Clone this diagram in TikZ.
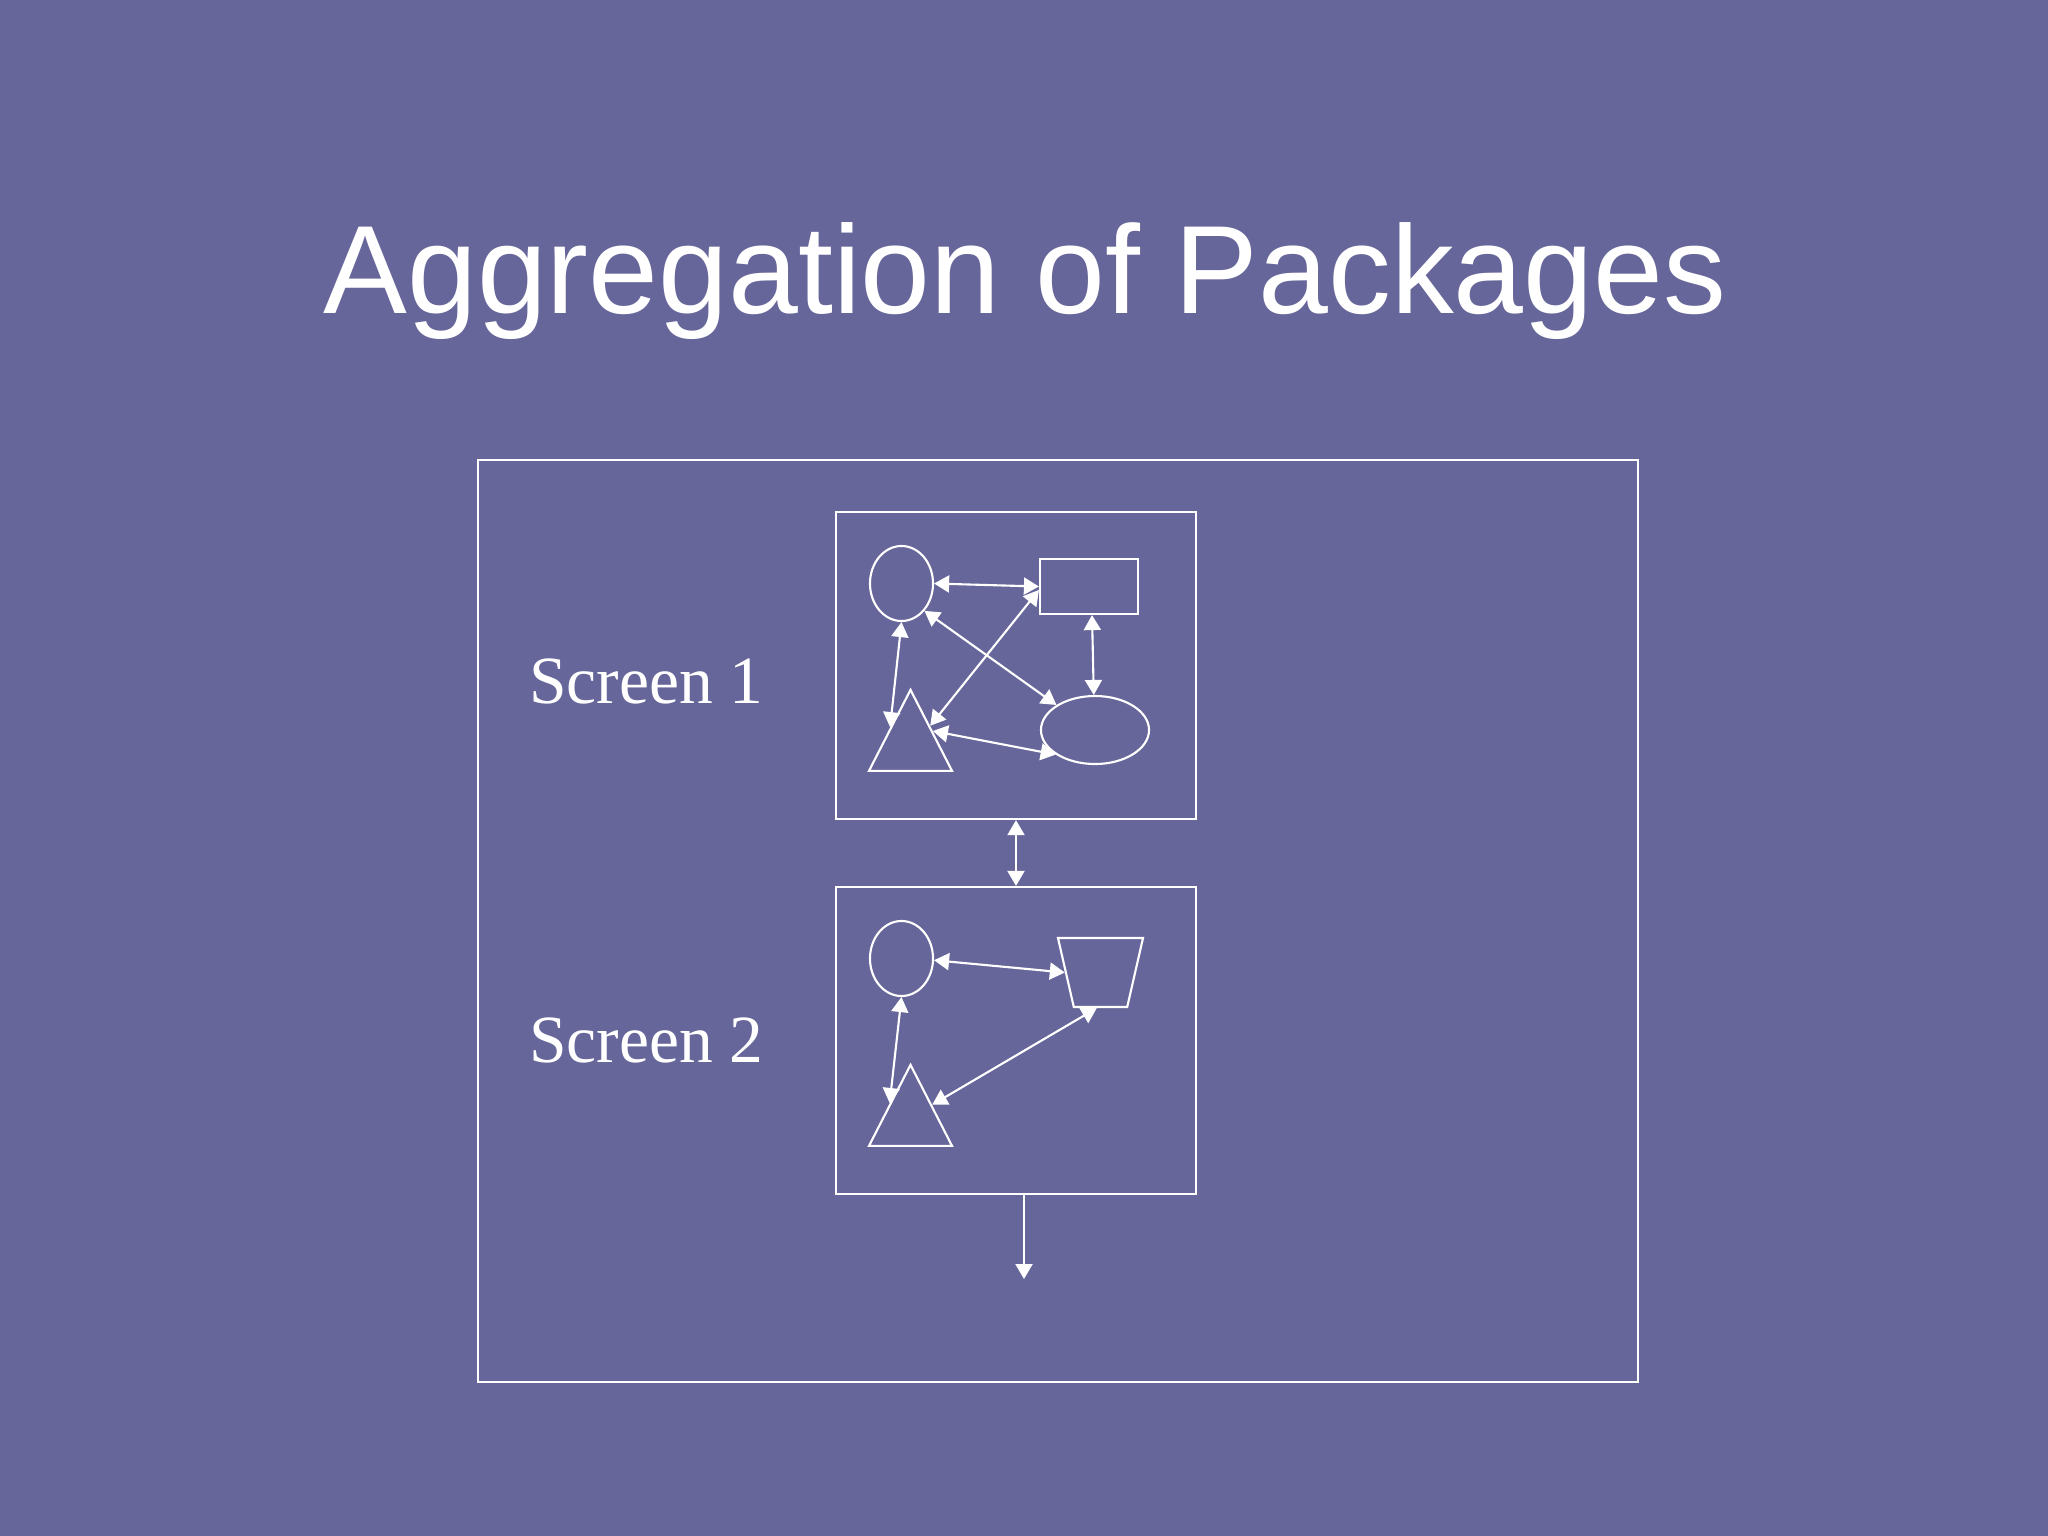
\documentclass[tikz,border=0pt]{standalone}
\usepackage{fontspec}
\setmainfont{Liberation Serif}
\newfontfamily\titlefont{Liberation Sans}
\usetikzlibrary{shapes.geometric,arrows.meta}
\definecolor{slidebg}{RGB}{103,102,154}
\begin{document}
\begin{tikzpicture}
  [x=0.01cm,y=-0.01cm,
   every node/.style={draw=white,line width=0.6pt,inner sep=0pt},
   link/.style={white,line width=0.6pt,{Triangle[length=0.15cm,width=0.17cm]}-{Triangle[length=0.15cm,width=0.17cm]}},
   box/.style={rectangle,minimum width=3.6cm,minimum height=3.07cm},
   oval/.style={ellipse,minimum width=0.63cm,minimum height=0.75cm},
   tri/.style={isosceles triangle,shape border rotate=90,isosceles triangle stretches,minimum width=0.83cm,minimum height=0.81cm},
   label/.style={draw=none,text=white,font=\fontsize{19.2}{23}\selectfont,anchor=base west}]
  \fill[slidebg] (0,0) rectangle (2048,1536);
  \node[draw=none,text=white,anchor=base,font=\titlefont\fontsize{35.7}{42}\selectfont] (title) at (1025,313) {Aggregation of Packages};

  \node[rectangle,minimum width=11.6cm,minimum height=9.22cm] (pkg) at (1058,921) {};
  \node[box] (s1) at (1016,665.5) {};
  \node[box] (s2) at (1016,1040.5) {};
  \node[label] (l1) at (528,703) {Screen 1};
  \node[label] (l2) at (528,1062) {Screen 2};

  % screen 1
  \node[oval] (c1) at (901.5,583.5) {};
  \node[rectangle,minimum width=0.98cm,minimum height=0.55cm] (r1) at (1089,586.5) {};
  \node[ellipse,minimum width=1.08cm,minimum height=0.68cm] (e1) at (1095,730) {};
  \node[tri] (t1) at (910.5,745.5) {};

  % screen 2
  \node[oval] (c2) at (901.5,958.5) {};
  \node[trapezium,inner sep=1pt,shape border rotate=180,trapezium stretches=true,trapezium left angle=73.5,trapezium right angle=73.5,minimum width=0.85cm,minimum height=0.69cm] (q2) at (1100.5,972.5) {};
  \node[tri] (t2) at (910.5,1120.5) {};

  \coordinate (out) at (1024,1279);

  \foreach \from/\to in {c1.east/r1.west,r1.184/t1.45,c1.-50/e1.147,r1.-84/e1.92,c1.270/t1.138,t1.33/e1.212,
                         c2.-3/q2.180,c2.270/t2.140,q2.264/t2.36,s1.south/s2.north}
    \draw[link] (\from) -- (\to);
  \draw[white,line width=0.6pt,-{Triangle[length=0.15cm,width=0.17cm]}] (s2.south -| out) -- (out);
\end{tikzpicture}
\end{document}
